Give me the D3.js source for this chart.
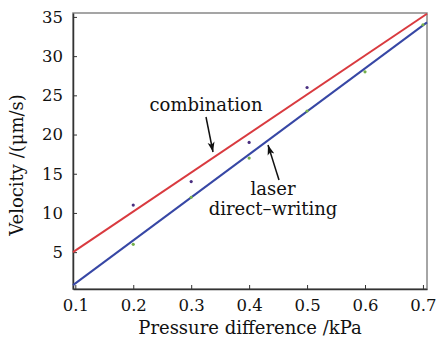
<!DOCTYPE html>
<html>
<head>
<meta charset="utf-8">
<script src="https://cdn.jsdelivr.net/npm/d3@7"></script>
<style>
  body { margin: 0; background: #fff; }
  text { font-family: "DejaVu Serif", serif; fill: #111; }
</style>
</head>
<body>
<svg id="chart"></svg>
<script>
// measured points
const pressure = [0.2, 0.3, 0.4, 0.5, 0.6, 0.7];
const laserVel = [6, 12, 17, 23, 28, 34];
const combPressure = [0.2, 0.3, 0.4, 0.5];
const combVel = [11, 14, 19, 26];
// fitted lines, ends at the plot edges
const fitX = [0.096, 0.707];
const combFit = [5.0, 35.4];
const laserFit = [0.8, 34.3];
const xTicks = [0.1, 0.2, 0.3, 0.4, 0.5, 0.6, 0.7];
const yTicks = [5, 10, 15, 20, 25, 30, 35];

const W = 439, H = 341;
const svg = d3.select("#chart").attr("width", W).attr("height", H);

const x = d3.scaleLinear().domain([0.096, 0.707]).range([73, 427]);
const y = d3.scaleLinear().domain([0.3, 35.5]).range([289, 13]);

// box
svg.append("rect")
  .attr("x", x.range()[0]).attr("y", y.range()[1])
  .attr("width", x.range()[1] - x.range()[0])
  .attr("height", y.range()[0] - y.range()[1])
  .attr("fill", "none").attr("stroke", "#888").attr("stroke-width", 1.5);

// axes, ticks inward
const xAxis = svg.append("g")
  .attr("transform", "translate(0," + y.range()[0] + ")")
  .call(d3.axisBottom(x).tickValues(xTicks).tickSizeInner(-4).tickSizeOuter(0).tickPadding(10)
    .tickFormat(d3.format(".1f")));
const yAxis = svg.append("g")
  .attr("transform", "translate(" + x.range()[0] + ",0)")
  .call(d3.axisLeft(y).tickValues(yTicks).tickSizeInner(-4).tickSizeOuter(0).tickPadding(10));

[xAxis, yAxis].forEach(g => {
  g.select(".domain").attr("stroke", "#333").attr("stroke-width", 1.5);
  g.selectAll(".tick line").attr("stroke", "#333");
  g.selectAll("text").style("font-family", "DejaVu Serif").style("font-size", "16.5px").attr("fill", "#111");
});

// axis titles
svg.append("text")
  .attr("x", 250).attr("y", 334)
  .attr("text-anchor", "middle")
  .style("font-size", "18px")
  .text("Pressure difference /kPa");

svg.append("text")
  .attr("transform", "translate(23,165) rotate(-90)")
  .attr("text-anchor", "middle")
  .style("font-size", "18px")
  .text("Velocity /(μm/s)");

// fit lines
const line = d3.line().x(d => x(d[0])).y(d => y(d[1]));
svg.append("path")
  .datum(d3.zip(fitX, combFit))
  .attr("d", line).attr("fill", "none")
  .attr("stroke", "#d93a3f").attr("stroke-width", 2);
svg.append("path")
  .datum(d3.zip(fitX, laserFit))
  .attr("d", line).attr("fill", "none")
  .attr("stroke", "#3747a5").attr("stroke-width", 2);

// points
svg.selectAll(".pt-comb")
  .data(d3.zip(combPressure, combVel))
  .enter().append("circle")
  .attr("cx", d => x(d[0])).attr("cy", d => y(d[1]))
  .attr("r", 1.6).attr("fill", "#4a2f80");
svg.selectAll(".pt-laser")
  .data(d3.zip(pressure, laserVel))
  .enter().append("circle")
  .attr("cx", d => x(d[0])).attr("cy", d => y(d[1]))
  .attr("r", 1.6).attr("fill", "#74b04a");

// annotations
svg.append("defs").append("marker")
  .attr("id", "arr").attr("viewBox", "0 0 10 10")
  .attr("refX", 10).attr("refY", 5)
  .attr("markerWidth", 10).attr("markerHeight", 10)
  .attr("markerUnits", "userSpaceOnUse")
  .attr("orient", "auto")
  .append("path").attr("d", "M0,1.5 L10,5 L0,8.5 L2.5,5 Z").attr("fill", "#111");

svg.append("text")
  .attr("x", 206).attr("y", 111)
  .attr("text-anchor", "middle")
  .style("font-size", "18px")
  .text("combination");
svg.append("line")
  .attr("x1", 206).attr("y1", 117).attr("x2", 213).attr("y2", 152)
  .attr("stroke", "#111").attr("stroke-width", 1.5).attr("marker-end", "url(#arr)");

svg.append("text")
  .attr("x", 273).attr("y", 195)
  .attr("text-anchor", "middle")
  .style("font-size", "18px")
  .text("laser");
svg.append("text")
  .attr("x", 273).attr("y", 215)
  .attr("text-anchor", "middle")
  .style("font-size", "18px")
  .text("direct\u2013writing");
svg.append("line")
  .attr("x1", 279).attr("y1", 180).attr("x2", 268).attr("y2", 145)
  .attr("stroke", "#111").attr("stroke-width", 1.5).attr("marker-end", "url(#arr)");
</script>
</body>
</html>
